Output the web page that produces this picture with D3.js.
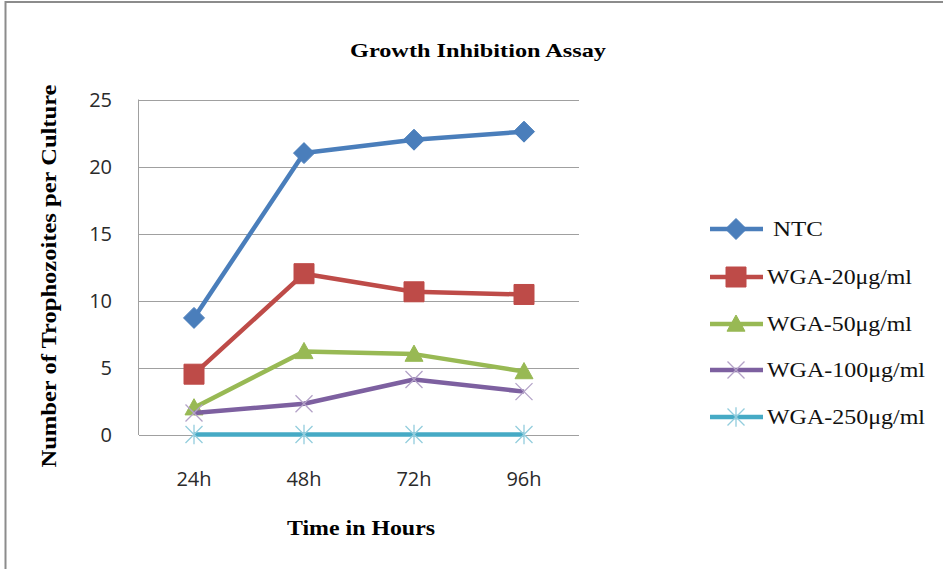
<!DOCTYPE html>
<html><head><meta charset="utf-8">
<script src="https://cdn.jsdelivr.net/npm/d3@7"></script>
<style>body{margin:0;background:#fff}svg{display:block}</style>
</head><body>
<svg id="c" width="943" height="569"></svg>
<script>
const categories = ["24h", "48h", "72h", "96h"];
const seriesNames = ["NTC", "WGA-20μg/ml", "WGA-50μg/ml", "WGA-100μg/ml", "WGA-250μg/ml"];
const ntc = [8.7, 21.0, 22.0, 22.6];
const wga20 = [4.5, 12.0, 10.65, 10.45];
const wga50 = [2.0, 6.2, 6.0, 4.7];
const wga100 = [1.6, 2.3, 4.1, 3.2];
const wga250 = [0, 0, 0, 0];
const yTicks = [0, 5, 10, 15, 20, 25];
const colors = ["#4a7ebb", "#be4b48", "#98b954", "#7d60a0", "#46aac5"];
const markerColors = ["#4a7ebb", "#be4b48", "#98b954", "#b3a2c7", "#93cddd"];
const markers = ["diamond", "square", "triangle", "x", "star"];

const data = [ntc, wga20, wga50, wga100, wga250];
const svg = d3.select("#c");

// frame
svg.append("line").attr("x1",5.5).attr("x2",5.5).attr("y1",1).attr("y2",569).attr("stroke","#8c8c8c").attr("stroke-width",2);
svg.append("line").attr("x1",5).attr("x2",943).attr("y1",2).attr("y2",2).attr("stroke","#8c8c8c").attr("stroke-width",2);

const L = 139, R = 579, T = 99.5, B = 434.5;
const x = d3.scaleBand().domain(categories).range([L, R]);
const y = d3.scaleLinear().domain([0, 25]).range([B, T]);

// gridlines
svg.append("g").selectAll("line").data(yTicks).join("line")
  .attr("x1", L).attr("x2", R).attr("y1", d=>Math.round(y(d))+0.5).attr("y2", d=>Math.round(y(d))+0.5)
  .attr("stroke", "#a0a0a0").attr("stroke-width", 1);
svg.append("line").attr("x1",L-0.5).attr("x2",L-0.5).attr("y1",T).attr("y2",B+0.5).attr("stroke","#a0a0a0");

// y axis labels
const yAxis = d3.axisLeft(y).tickValues(yTicks).tickSize(0).tickPadding(27);
const gy = svg.append("g").attr("transform", `translate(${L},0)`).call(yAxis);
gy.select(".domain").remove();
gy.selectAll("text").attr("font-family","'Open Sans', sans-serif").attr("font-size",20).attr("fill","#2a2a2a").attr("dy","0.36em");

const xAxis = d3.axisBottom(x).tickSize(0).tickPadding(39);
const gx = svg.append("g").attr("transform", `translate(0,${B})`).call(xAxis);
gx.select(".domain").remove();
gx.selectAll("text").attr("font-family","'Open Sans', sans-serif").attr("font-size",20).attr("fill","#2a2a2a").attr("dy","0.6em");

function markerPath(type, s) {
  const h = s/2;
  switch(type) {
    case "diamond": return `M0,${-h}L${h},0L0,${h}L${-h},0Z`;
    case "square": return `M${-h},${-h}H${h}V${h}H${-h}Z`;
    case "triangle": return `M0,${-h}L${h},${h*0.8}L${-h},${h*0.8}Z`;
    case "x": return `M${-h},${-h}L${h},${h}M${h},${-h}L${-h},${h}`;
    case "star": return `M${-h},${-h}L${h},${h}M${h},${-h}L${-h},${h}M0,${-h*1.15}V${h*1.15}`;
  }
}
const mSize = [21, 20, 18, 17, 17];

function drawMarker(g, i, cx, cy) {
  const p = g.append("path").attr("d", markerPath(markers[i], mSize[i])).attr("transform", `translate(${cx},${cy})`);
  if (markers[i] === "x" || markers[i] === "star") {
    p.attr("fill","none").attr("stroke", markerColors[i]).attr("stroke-width",1.3);
  } else {
    p.attr("fill", markerColors[i]).attr("stroke", markerColors[i]).attr("stroke-width",1);
  }
}

const line = d3.line().x((d,j)=>x(categories[j]) + x.bandwidth()/2).y(d=>y(d));
data.forEach((vals, i) => {
  const g = svg.append("g");
  g.append("path").datum(vals).attr("d", line).attr("fill","none")
    .attr("stroke", colors[i]).attr("stroke-width", 4.5).attr("stroke-linejoin","round");
  vals.forEach((v, j) => drawMarker(g, i, x(categories[j]) + x.bandwidth()/2, y(v)));
});

// title
svg.append("text").attr("x", 478).attr("y", 57).attr("text-anchor","middle")
  .attr("font-family","'Liberation Serif', 'Times New Roman', serif").attr("font-weight","bold").attr("font-size",19)
  .attr("textLength",256).attr("lengthAdjust","spacingAndGlyphs").text("Growth Inhibition Assay");

// axis titles
svg.append("text").attr("transform","translate(56,276) rotate(-90)").attr("text-anchor","middle")
  .attr("font-family","'Liberation Serif', 'Times New Roman', serif").attr("font-weight","bold").attr("font-size",20)
  .attr("textLength",383).attr("lengthAdjust","spacingAndGlyphs").text("Number of Trophozoites per Culture");
svg.append("text").attr("x", 361).attr("y", 535).attr("text-anchor","middle")
  .attr("font-family","'Liberation Serif', 'Times New Roman', serif").attr("font-weight","bold").attr("font-size",20)
  .attr("textLength",148).attr("lengthAdjust","spacingAndGlyphs").text("Time in Hours");

// legend
const legY = [229, 277, 324, 370, 417];
const legW = [50, 145, 145, 158, 158];
seriesNames.forEach((n, i) => {
  const g = svg.append("g");
  g.append("line").attr("x1",710).attr("x2",763).attr("y1",legY[i]).attr("y2",legY[i]).attr("stroke",colors[i]).attr("stroke-width",4.5);
  drawMarker(g, i, 736, legY[i]);
  g.append("text").attr("x", i===0 ? 773 : 767).attr("y", legY[i]+7)
    .attr("font-family","'Liberation Serif', 'Times New Roman', serif").attr("font-size",21).attr("fill","#111")
    .attr("textLength", legW[i]).attr("lengthAdjust","spacingAndGlyphs").text(n);
});
</script>
</body></html>
